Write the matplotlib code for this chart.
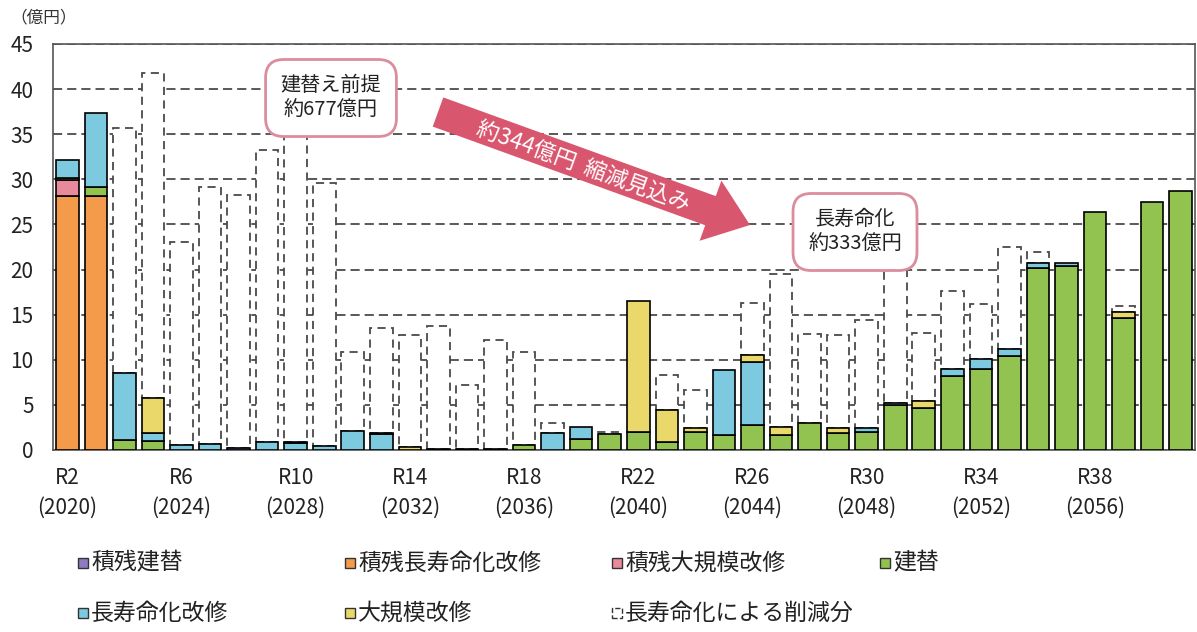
import matplotlib
matplotlib.use("Agg")
import matplotlib.pyplot as plt
import numpy as np
from matplotlib.patches import Rectangle, FancyArrow

plt.rcParams['font.family'] = ['Noto Sans CJK JP', 'DejaVu Sans']

# R2(2020) .. R41(2059), values in 億円
years = np.arange(40)
tick_pos = [0, 4, 8, 12, 16, 20, 24, 28, 32, 36]
tick_labels = ['R2\n(2020)', 'R6\n(2024)', 'R10\n(2028)', 'R14\n(2032)', 'R18\n(2036)',
               'R22\n(2040)', 'R26\n(2044)', 'R30\n(2048)', 'R34\n(2052)', 'R38\n(2056)']

zan_tatekae = [0, 0, 0, 0, 0, 0, 0.2, 0, 0, 0,
               0, 0, 0, 0.1, 0.1, 0.1, 0, 0, 0, 0,
               0, 0, 0, 0, 0, 0, 0, 0, 0, 0,
               0, 0, 0, 0, 0, 0, 0, 0, 0, 0]
zan_choju = [28.2, 28.2] + [0] * 38
zan_dai = [1.7] + [0] * 39
tatekae = [0.3, 0.9, 1.1, 1.0, 0, 0, 0, 0, 0, 0,
           0, 0, 0, 0, 0, 0, 0.55, 0, 1.2, 1.8,
           2.0, 0.9, 2.0, 1.7, 2.8, 1.7, 3.0, 1.9, 2.0, 5.0,
           4.6, 8.2, 9.0, 10.4, 20.2, 20.4, 26.4, 14.6, 27.5, 28.7]
choju = [1.9, 8.2, 7.4, 0.9, 0.55, 0.65, 0, 0.85, 0.8, 0.4,
         2.1, 1.75, 0, 0, 0, 0, 0, 1.85, 1.3, 0,
         0, 0, 0, 7.2, 6.9, 0, 0, 0, 0.4, 0.2,
         0, 0.8, 1.1, 0.8, 0.5, 0.3, 0, 0, 0, 0]
dai = [0, 0, 0, 3.9, 0, 0, 0, 0, 0.1, 0,
       0, 0.15, 0.3, 0, 0, 0, 0, 0, 0, 0,
       14.5, 3.5, 0.4, 0, 0.85, 0.9, 0, 0.5, 0, 0,
       0.8, 0, 0, 0, 0, 0, 0, 0.7, 0, 0]
sakugen = [0, 0, 27.2, 36.0, 22.45, 28.45, 28.1, 32.45, 37.1, 29.2,
           8.75, 11.6, 12.4, 13.6, 7.1, 12.1, 10.35, 1.15, 0, 0.2,
           0, 3.9, 4.3, 0, 5.75, 16.95, 9.9, 10.3, 12.0, 16.8,
           7.6, 8.6, 6.1, 11.3, 1.2, 0, 0, 0.7, 0, 0]

series = [
    ('積残建替', zan_tatekae, '#8E7CC3'),
    ('積残長寿命化改修', zan_choju, '#F39A4B'),
    ('積残大規模改修', zan_dai, '#E8899C'),
    ('建替', tatekae, '#92C24F'),
    ('長寿命化改修', choju, '#7DC9E0'),
    ('大規模改修', dai, '#EBD86B'),
]

fig = plt.figure(figsize=(11.97, 6.32), dpi=100)
ax = fig.add_axes([53 / 1197, 182 / 632, 1142 / 1197, 406 / 632])

w = 0.79
bottom = np.zeros(40)
for name, vals, col in series:
    v = np.array(vals, dtype=float)
    m = v > 0
    ax.bar(years[m], v[m], width=w, bottom=bottom[m], color=col,
           edgecolor='black', linewidth=1.2, zorder=3)
    bottom += v

red = np.array(sakugen)
m = red > 0
ax.bar(years[m], red[m], width=w, bottom=bottom[m], color='white',
       edgecolor='#4a4a4a', linewidth=1.3, linestyle=(0, (4.5, 3)), zorder=2)

ax.set_xlim(-0.5, 39.5)
ax.set_ylim(0, 45)
ax.set_yticks(np.arange(0, 46, 5))
ax.set_xticks(tick_pos)
ax.set_xticklabels(tick_labels, linespacing=1.45)
ax.tick_params(axis='both', length=0, labelsize=15, colors='#222222')
ax.tick_params(axis='x', pad=12)
ax.tick_params(axis='y', pad=14)
ax.yaxis.grid(True, linestyle=(0, (5.5, 3)), color='#3c3c3c', linewidth=1.2)
ax.set_axisbelow(True)
for s in ax.spines.values():
    s.set_color('#555555')
    s.set_linewidth(1.2)

fig.text(10 / 1197, 1 - 18 / 632, '（億円）', fontsize=12, va='center', ha='left', color='#333333')

# callout boxes
box = dict(boxstyle='round,pad=0.75,rounding_size=0.9', facecolor='white',
           edgecolor='#DB8D9D', linewidth=2)
fig.text(331 / 1197, 1 - 98 / 632, '建替え前提\n約677億円', fontsize=14.5, ha='center',
         va='center', linespacing=1.3, bbox=box, color='#222222', zorder=5)
fig.text(855 / 1197, 1 - 232 / 632, '長寿命化\n約333億円', fontsize=14.5, ha='center',
         va='center', linespacing=1.3, bbox=box, color='#222222', zorder=5)

# reduction arrow (inches)
tx, ty = 4.38, (632 - 112) / 100
hx, hy = 7.50, (632 - 225) / 100
arr = FancyArrow(tx, ty, hx - tx, hy - ty, width=0.31, head_width=0.64, head_length=0.42,
                 length_includes_head=True, transform=fig.dpi_scale_trans,
                 facecolor='#D9566F', edgecolor='none', zorder=6)
fig.add_artist(arr)
ang = np.degrees(np.arctan2(hy - ty, hx - tx))
fig.text(583 / 1197, 1 - 167 / 632, '約344億円  縮減見込み', fontsize=16, color='white',
         rotation=ang, rotation_mode='anchor', ha='center', va='center', zorder=7)

# legend
leg_items = [
    ('積残建替', '#8E7CC3', 78, 563, 'solid'),
    ('積残長寿命化改修', '#F39A4B', 345, 563, 'solid'),
    ('積残大規模改修', '#E8899C', 612, 563, 'solid'),
    ('建替', '#92C24F', 880, 563, 'solid'),
    ('長寿命化改修', '#7DC9E0', 78, 613, 'solid'),
    ('大規模改修', '#EBD86B', 345, 613, 'solid'),
    ('長寿命化による削減分', 'white', 612, 613, 'dashed'),
]
for name, col, px, py, ls in leg_items:
    fig.add_artist(Rectangle((px / 1197, 1 - (py + 5) / 632), 10 / 1197, 10 / 632,
                             facecolor=col, edgecolor='#333333', linewidth=1.0,
                             linestyle=ls, transform=fig.transFigure))
    fig.text((px + 13) / 1197, 1 - py / 632, name, fontsize=16.5, va='center',
             ha='left', color='#222222')

fig.savefig('out.png', dpi=100)
